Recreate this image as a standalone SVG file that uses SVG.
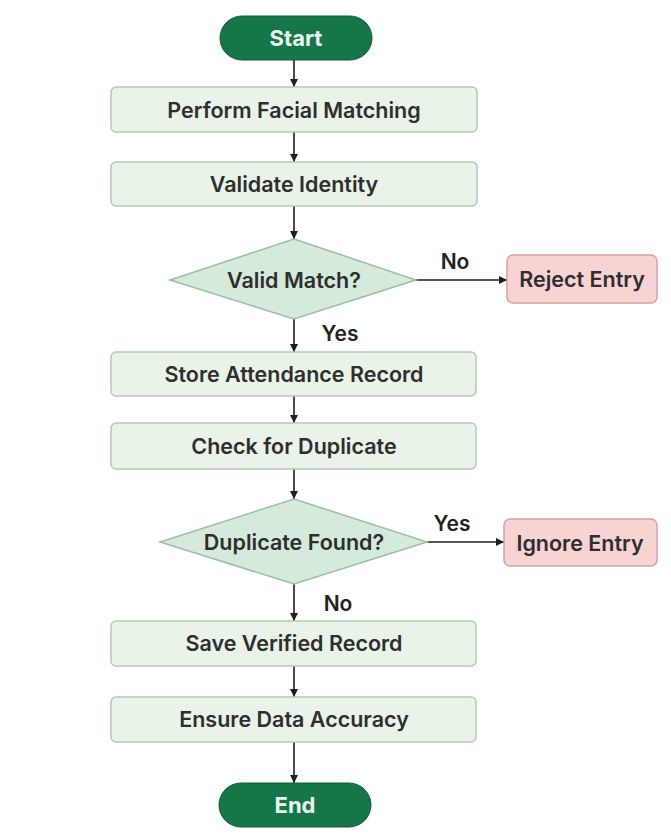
<svg xmlns="http://www.w3.org/2000/svg" width="671" height="837" viewBox="0 0 671 837">
<defs>
<style>
.t{font-family:Inter,"Liberation Sans",sans-serif;font-weight:600;font-size:21.5px;fill:#2e2e2e;text-anchor:middle;dominant-baseline:central}
.pill{fill:#17754a;stroke:#0f5e39;stroke-width:1}
.pt{font-family:Inter,"Liberation Sans",sans-serif;font-weight:700;font-size:22px;fill:#e8f5ec;text-anchor:middle;dominant-baseline:central}
.box{fill:#e9f3e8;stroke:#b3cbb5;stroke-width:1.5}
.dia{fill:#d4eadb;stroke:#9bbfa4;stroke-width:1.5}
.red{fill:#f8d3d4;stroke:#dd9ea0;stroke-width:1.5}
.lbl{font-family:Inter,"Liberation Sans",sans-serif;font-weight:600;font-size:21px;fill:#222;text-anchor:middle;dominant-baseline:central}
.c{stroke:#1e1e1e;stroke-width:1.6;fill:none;marker-end:url(#ah)}
</style>
<marker id="ah" viewBox="0 0 10 10" refX="10" refY="5" markerWidth="8" markerHeight="8" markerUnits="userSpaceOnUse" orient="auto"><path d="M0,0 L10,5 L0,10 z" fill="#1e1e1e"/></marker>
</defs>
<rect width="671" height="837" fill="#ffffff"/>
<g id="connectors">
<path class="c" d="M294,60 V87"/>
<path class="c" d="M294,132 V162"/>
<path class="c" d="M294,206 V239"/>
<path class="c" d="M416,280 H507"/>
<path class="c" d="M294,319 V352"/>
<path class="c" d="M294,396 V423"/>
<path class="c" d="M294,469 V499"/>
<path class="c" d="M427,542 H504"/>
<path class="c" d="M294,584 V621"/>
<path class="c" d="M294,666 V697"/>
<path class="c" d="M294,742 V783"/>
<text class="lbl" x="455" y="261">No</text>
<text class="lbl" x="340" y="333">Yes</text>
<text class="lbl" x="452" y="523">Yes</text>
<text class="lbl" x="338" y="603">No</text>
</g>
<g id="start"><rect class="pill" x="220" y="16" width="152" height="44" rx="22"/><text class="pt" x="296" y="38">Start</text></g>
<g id="facial"><rect class="box" x="111" y="87" width="366" height="45" rx="5"/><text class="t" x="294" y="110">Perform Facial Matching</text></g>
<g id="validate"><rect class="box" x="111" y="162" width="366" height="44" rx="5"/><text class="t" x="294" y="184">Validate Identity</text></g>
<g id="validmatch"><polygon class="dia" points="294,239 416,280 294,319 170,280"/><text class="t" x="294" y="280">Valid Match?</text></g>
<g id="reject"><rect class="red" x="507" y="255" width="150" height="48" rx="6"/><text class="t" x="582" y="279">Reject Entry</text></g>
<g id="store"><rect class="box" x="111" y="352" width="365" height="44" rx="5"/><text class="t" x="294" y="374">Store Attendance Record</text></g>
<g id="check"><rect class="box" x="111" y="423" width="365" height="46" rx="5"/><text class="t" x="294" y="446">Check for Duplicate</text></g>
<g id="dupfound"><polygon class="dia" points="294,499 427,542 294,584 160,542"/><text class="t" x="294" y="542">Duplicate Found?</text></g>
<g id="ignore"><rect class="red" x="504" y="519" width="153" height="47" rx="6"/><text class="t" x="580" y="543">Ignore Entry</text></g>
<g id="save"><rect class="box" x="111" y="621" width="365" height="45" rx="5"/><text class="t" x="294" y="643">Save Verified Record</text></g>
<g id="ensure"><rect class="box" x="111" y="697" width="365" height="45" rx="5"/><text class="t" x="294" y="719">Ensure Data Accuracy</text></g>
<g id="end"><rect class="pill" x="219" y="783" width="152" height="44" rx="22"/><text class="pt" x="295" y="805">End</text></g>
</svg>
